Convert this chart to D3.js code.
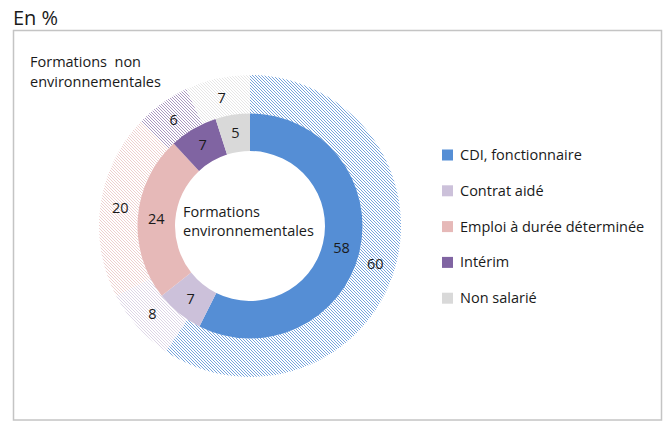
<!DOCTYPE html>
<html><head><meta charset="utf-8">
<script src="https://cdn.jsdelivr.net/npm/d3@7"></script>
<style>body{margin:0;background:#fff}svg{display:block}text{font-family:"Open Sans","Noto Sans",sans-serif;fill:#1a1a1a}</style>
</head><body>
<script>
const categories = ["CDI, fonctionnaire","Contrat aidé","Emploi à durée déterminée","Intérim","Non salarié"];
const colors = ["#558ed5","#ccc1da","#e6b9b8","#8064a2","#d9d9d9"];
const innerValues = [58,7,24,7,5];   // Formations environnementales
const outerValues = [60,8,20,6,7];   // Formations non environnementales

const W=664,H=421, cx=250, cy=226;
const svg=d3.select("body").append("svg").attr("width",W).attr("height",H);
const defs=svg.append("defs");
colors.forEach((c,i)=>{
  const p=defs.append("pattern").attr("id","hatch"+i).attr("patternUnits","userSpaceOnUse")
    .attr("width",3).attr("height",3);
  p.append("rect").attr("width",3).attr("height",3).attr("fill","#fff");
  p.append("path").attr("d","M-1,-1L4,4M-1,2L1,4M2,-1L4,1").attr("stroke",c)
    .attr("stroke-width",0.9).attr("stroke-opacity",i===0?0.9:0.75);
});

svg.append("text").attr("x",13).attr("y",25).attr("font-size",20).text("En %");
svg.append("rect").attr("x",13.5).attr("y",30.5).attr("width",648).attr("height",389.5)
  .attr("fill","none").attr("stroke","#c4c4c4").attr("stroke-width",1.5);

const pie=d3.pie().sort(null).value(d=>d);
const g=svg.append("g").attr("transform",`translate(${cx},${cy})`);
const rIn0=75,rIn1=112.5,rOut1=151;
const arcIn=d3.arc().innerRadius(rIn0).outerRadius(rIn1);
const arcOut=d3.arc().innerRadius(rIn1).outerRadius(rOut1);
const lblIn=d3.arc().innerRadius(94).outerRadius(94);
const lblOut=d3.arc().innerRadius(131).outerRadius(131);

const outerArcs=pie(outerValues), innerArcs=pie(innerValues);
g.selectAll(".o").data(outerArcs).enter().append("path").attr("d",arcOut).attr("fill",(d,i)=>`url(#hatch${i})`);
g.selectAll(".i").data(innerArcs).enter().append("path").attr("d",arcIn).attr("fill",(d,i)=>colors[i]);
g.selectAll(".ol").data(outerArcs).enter().append("text").attr("transform",d=>`translate(${lblOut.centroid(d)})`)
  .attr("text-anchor","middle").attr("dy","0.35em").attr("font-size",14.5).text(d=>d.data);
g.selectAll(".il").data(innerArcs).enter().append("text").attr("transform",d=>`translate(${lblIn.centroid(d)})`)
  .attr("text-anchor","middle").attr("dy","0.35em").attr("font-size",14.5).text(d=>d.data);

svg.append("text").attr("x",183).attr("y",217).attr("font-size",14.5).text("Formations");
svg.append("text").attr("x",183).attr("y",236).attr("font-size",14.5).text("environnementales");
svg.append("text").attr("x",30).attr("y",67).attr("font-size",14.5).style("white-space","pre").text("Formations  non");
svg.append("text").attr("x",30).attr("y",87).attr("font-size",14.5).text("environnementales");

const leg=svg.append("g");
categories.forEach((c,i)=>{
  const y=155+i*35.8;
  leg.append("rect").attr("x",442).attr("y",y-5.5).attr("width",11).attr("height",11).attr("fill",colors[i]);
  leg.append("text").attr("x",460).attr("y",y).attr("dy","0.35em").attr("font-size",14.5).text(c);
});
</script>
</body></html>
